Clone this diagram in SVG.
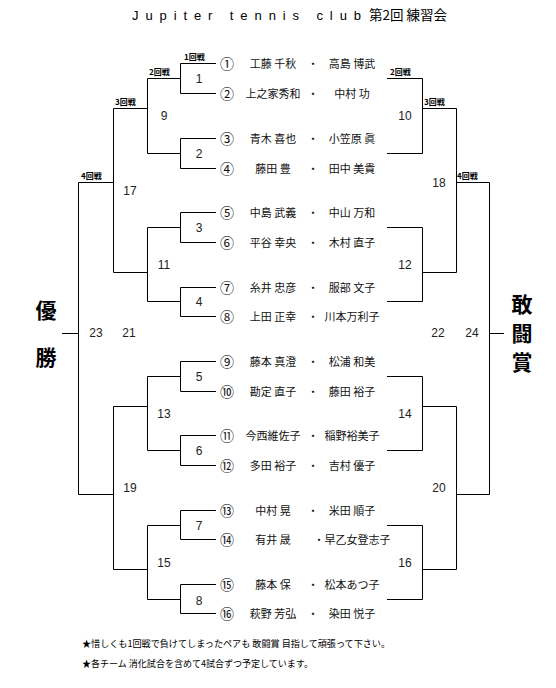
<svg xmlns="http://www.w3.org/2000/svg" width="556" height="688" viewBox="0 0 556 688">
<style>
.ln{fill:none;stroke:#000;stroke-width:1}
.nm{font-family:"Noto Sans CJK JP","Noto Sans",sans-serif;font-size:11px;fill:#111;text-anchor:middle}
.cn{font-family:"Noto Sans CJK JP","Noto Sans",sans-serif;font-size:14px;fill:#111;text-anchor:middle}
.mn{font-family:"Liberation Sans",Arial,sans-serif;font-size:12px;fill:#222;text-anchor:middle}
.rd{font-family:"Noto Sans CJK JP",sans-serif;font-size:8px;font-weight:bold;fill:#000}
.big{font-family:"Noto Sans CJK JP",sans-serif;font-size:21px;font-weight:bold;fill:#000;text-anchor:middle}
.ft{font-family:"Noto Sans CJK JP",sans-serif;font-size:9.5px;fill:#000}
.tt{font-family:"Liberation Sans",Arial,sans-serif;font-size:13px;fill:#000}
.tj{font-family:"Noto Sans CJK JP",sans-serif;font-size:13.5px;fill:#000}
</style>
<rect width="556" height="688" fill="#fff"/>
<g id="title">
<text class="tt" x="132" y="20" textLength="229" lengthAdjust="spacing">Jupiter tennis club</text>
<text class="tj" x="369" y="20" textLength="78" lengthAdjust="spacingAndGlyphs">第2回 練習会</text>
</g>
<g id="connectors">
<path class="ln" d="M216 63.5H180.5V93.5H216M216 138.5H180.5V168.5H216M216 212.5H180.5V242.5H216M216 287.5H180.5V316.5H216M216 361.5H180.5V391.5H216M216 435.5H180.5V465.5H216M216 510.5H180.5V539.5H216M216 584.5H180.5V613.5H216"/>
<path class="ln" d="M180 78.5H147.5V153.5H180M180 227.5H147.5V301.5H180M180 376.5H147.5V450.5H180M180 525.5H147.5V599.5H180"/>
<path class="ln" d="M147 108.5H113.5V272.5H147M147 406.5H113.5V569.5H147"/>
<path class="ln" d="M113 182.5H78.5V494.5H113M78 333.5H62"/>
<path class="ln" d="M387 78.5H422.5V153.5H387M387 227.5H422.5V301.5H387M387 376.5H422.5V450.5H387M387 525.5H422.5V599.5H387"/>
<path class="ln" d="M422 108.5H456.5V272.5H422M422 406.5H456.5V569.5H422"/>
<path class="ln" d="M456 182.5H489.5V494.5H456M489 333.5H504"/>
</g>
<g id="round-labels">
<text class="rd" x="184" y="60">1回戦</text>
<text class="rd" x="149" y="75">2回戦</text>
<text class="rd" x="115" y="105">3回戦</text>
<text class="rd" x="81" y="179">4回戦</text>
<text class="rd" x="390" y="75">2回戦</text>
<text class="rd" x="424" y="105">3回戦</text>
<text class="rd" x="457" y="179">4回戦</text>
</g>
<g id="p1"><text class="cn" x="227" y="68.5">①</text><text class="nm" x="273" y="67.5">工藤 千秋</text><text class="nm" x="313" y="67.5">・</text><text class="nm" x="352" y="67.5">高島 博武</text></g>
<g id="p2"><text class="cn" x="227" y="98.5">②</text><text class="nm" x="273" y="97.5">上之家秀和</text><text class="nm" x="313" y="97.5">・</text><text class="nm" x="352" y="97.5">中村  功</text></g>
<g id="p3"><text class="cn" x="227" y="143.5">③</text><text class="nm" x="273" y="142.5">青木 喜也</text><text class="nm" x="313" y="142.5">・</text><text class="nm" x="352" y="142.5">小笠原 眞</text></g>
<g id="p4"><text class="cn" x="227" y="173.5">④</text><text class="nm" x="273" y="172.5">藤田  豊</text><text class="nm" x="313" y="172.5">・</text><text class="nm" x="352" y="172.5">田中 美貴</text></g>
<g id="p5"><text class="cn" x="227" y="217.5">⑤</text><text class="nm" x="273" y="216.5">中島 武義</text><text class="nm" x="313" y="216.5">・</text><text class="nm" x="352" y="216.5">中山 万和</text></g>
<g id="p6"><text class="cn" x="227" y="247.5">⑥</text><text class="nm" x="273" y="246.5">平谷 幸央</text><text class="nm" x="313" y="246.5">・</text><text class="nm" x="352" y="246.5">木村 直子</text></g>
<g id="p7"><text class="cn" x="227" y="292.5">⑦</text><text class="nm" x="273" y="291.5">糸井 忠彦</text><text class="nm" x="313" y="291.5">・</text><text class="nm" x="352" y="291.5">服部 文子</text></g>
<g id="p8"><text class="cn" x="227" y="321.5">⑧</text><text class="nm" x="273" y="320.5">上田 正幸</text><text class="nm" x="313" y="320.5">・</text><text class="nm" x="352" y="320.5">川本万利子</text></g>
<g id="p9"><text class="cn" x="227" y="366.5">⑨</text><text class="nm" x="273" y="365.5">藤本 真澄</text><text class="nm" x="313" y="365.5">・</text><text class="nm" x="352" y="365.5">松浦 和美</text></g>
<g id="p10"><text class="cn" x="227" y="396.5">⑩</text><text class="nm" x="273" y="395.5">勘定 直子</text><text class="nm" x="313" y="395.5">・</text><text class="nm" x="352" y="395.5">藤田 裕子</text></g>
<g id="p11"><text class="cn" x="227" y="440.5">⑪</text><text class="nm" x="273" y="439.5">今西維佐子</text><text class="nm" x="313" y="439.5">・</text><text class="nm" x="352" y="439.5">稲野裕美子</text></g>
<g id="p12"><text class="cn" x="227" y="470.5">⑫</text><text class="nm" x="273" y="469.5">多田 裕子</text><text class="nm" x="313" y="469.5">・</text><text class="nm" x="352" y="469.5">吉村 優子</text></g>
<g id="p13"><text class="cn" x="227" y="515.5">⑬</text><text class="nm" x="273" y="514.5">中村  晃</text><text class="nm" x="313" y="514.5">・</text><text class="nm" x="352" y="514.5">米田 順子</text></g>
<g id="p14"><text class="cn" x="227" y="544.5">⑭</text><text class="nm" x="273" y="543.5">有井  晟</text><text class="nm" x="352" y="543.5">・早乙女登志子</text></g>
<g id="p15"><text class="cn" x="227" y="589.5">⑮</text><text class="nm" x="273" y="588.5">藤本  保</text><text class="nm" x="313" y="588.5">・</text><text class="nm" x="352" y="588.5">松本あつ子</text></g>
<g id="p16"><text class="cn" x="227" y="618.5">⑯</text><text class="nm" x="273" y="617.5">萩野 芳弘</text><text class="nm" x="313" y="617.5">・</text><text class="nm" x="352" y="617.5">染田 悦子</text></g>
<g id="match-numbers">
<text class="mn" x="199" y="83">1</text>
<text class="mn" x="199" y="158">2</text>
<text class="mn" x="199" y="232">3</text>
<text class="mn" x="199" y="306">4</text>
<text class="mn" x="199" y="381">5</text>
<text class="mn" x="199" y="455">6</text>
<text class="mn" x="199" y="530">7</text>
<text class="mn" x="199" y="605">8</text>
<text class="mn" x="164" y="120">9</text>
<text class="mn" x="164" y="269">11</text>
<text class="mn" x="164" y="418">13</text>
<text class="mn" x="164" y="567">15</text>
<text class="mn" x="130" y="195">17</text>
<text class="mn" x="130" y="492">19</text>
<text class="mn" x="96" y="337">23</text>
<text class="mn" x="129" y="337">21</text>
<text class="mn" x="405" y="120">10</text>
<text class="mn" x="405" y="269">12</text>
<text class="mn" x="405" y="418">14</text>
<text class="mn" x="405" y="567">16</text>
<text class="mn" x="439" y="187">18</text>
<text class="mn" x="439" y="492">20</text>
<text class="mn" x="438" y="337">22</text>
<text class="mn" x="472" y="337">24</text>
</g>
<g id="winner">
<text class="big" x="46" y="318">優</text>
<text class="big" x="46" y="365">勝</text>
</g>
<g id="fighting-spirit">
<text class="big" x="522" y="312">敢</text>
<text class="big" x="522" y="341">闘</text>
<text class="big" x="522" y="370">賞</text>
</g>
<g id="notes">
<text class="ft" x="82" y="647" textLength="308" lengthAdjust="spacingAndGlyphs">★惜しくも1回戦で負けてしまったペアも 敢闘賞 目指して頑張って下さい。</text>
<text class="ft" x="82" y="667" textLength="231" lengthAdjust="spacingAndGlyphs">★各チーム 消化試合を含めて4試合ずつ予定しています。</text>
</g>
</svg>
